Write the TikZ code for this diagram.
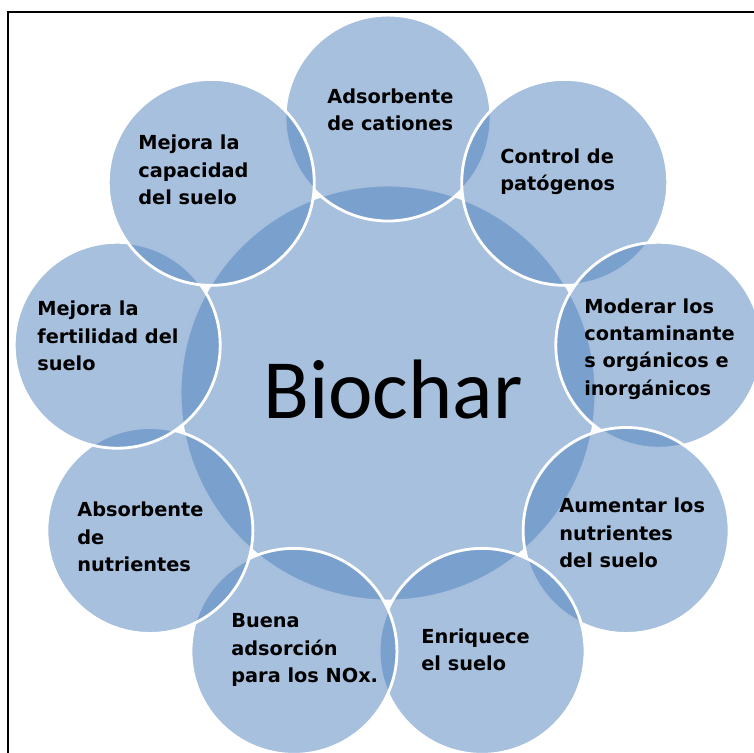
\documentclass[tikz,border=0pt]{standalone}
\usepackage{fontspec}
\setmainfont{DejaVu Sans}
\newfontfamily\hubfont{Carlito}
\usepackage{xcolor}
\usepackage{tikz}
\usetikzlibrary{calc, positioning}
\definecolor{accent}{HTML}{4F81BD}
\tikzstyle{hub}=[circle, draw=white, line width=1.6pt, fill=accent, fill opacity=0.5, minimum size=8.32cm, inner sep=0pt]
\tikzstyle{sat}=[circle, draw=white, line width=1.6pt, fill=accent, fill opacity=0.5, minimum size=4.12cm, inner sep=0pt]
\tikzstyle{lbl}=[anchor=west, align=left, inner sep=0pt, font=\bfseries\fontsize{11pt}{15.5pt}\selectfont]

\begin{document}
\begin{tikzpicture}[x=0.02cm, y=-0.02cm]

\useasboundingbox (0,0) rectangle (754,753);


% Centre circle
\node[hub] (bio) at (388,393) {};

% Ring of circles (clockwise from top)
\node[sat] (s1) at ($(bio)+(90:5.5cm)$) {};
\node[sat] (s2) at ($(bio)+(50:5.5cm)$) {};
\node[sat] (s3) at ($(bio)+(10:5.5cm)$) {};
\node[sat] (s4) at ($(bio)+(-30:5.5cm)$) {};
\node[sat] (s5) at ($(bio)+(-70:5.5cm)$) {};
\node[sat] (s6) at ($(bio)+(-110:5.5cm)$) {};
\node[sat] (s7) at ($(bio)+(-150:5.5cm)$) {};
\node[sat] (s8) at ($(bio)+(170:5.5cm)$) {};
\node[sat] (s9) at ($(bio)+(130:5.5cm)$) {};

% Texts
\node[font=\hubfont\fontsize{48pt}{50pt}\selectfont] (biotxt) at (393,390) {Biochar};

\node[lbl] (t1) at (327,110) {Adsorbente\\de cationes};
\node[lbl] (t2) at (500,172) {Control de\\patógenos};
\node[lbl] (t3) at (584,349) {Moderar los\\contaminante\\s orgánicos e\\inorgánicos};
\node[lbl] (t4) at (559,533) {Aumentar los\\nutrientes\\del suelo};
\node[lbl] (t5) at (421,650) {Enriquece\\el suelo};
\node[lbl] (t6) at (231,650) {Buena\\adsorción\\para los NOx.};
\node[lbl] (t7) at (77,537) {Absorbente\\de\\nutrientes};
\node[lbl] (t8) at (37,336) {Mejora la\\fertilidad del\\suelo};
\node[lbl] (t9) at (138,170) {Mejora la\\capacidad\\del suelo};

% Frame
\draw[line width=0.4mm] (754,12) -- (8,12) -- (8,753);

\end{tikzpicture}
\end{document}
